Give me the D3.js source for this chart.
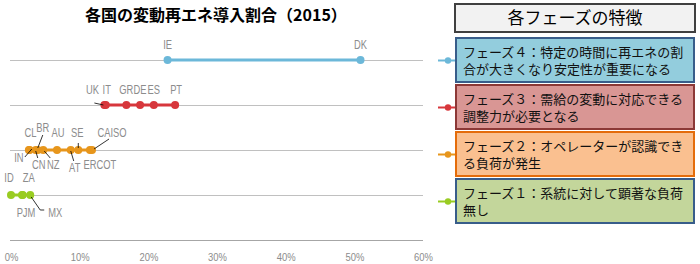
<!DOCTYPE html>
<html><head><meta charset="utf-8">
<script src="https://cdn.jsdelivr.net/npm/d3@7"></script>
<style>body{margin:0;background:#fff}</style>
</head><body><svg id="c" width="700" height="264"></svg>
<script>
// ---- data ----
const phases = [4, 3, 2, 1];
const phaseColors = ["#6cb8d9", "#d7373c", "#e7961c", "#99cc22"];
const phase4Countries = ["IE", "DK"];
const phase4Values = [0.228, 0.509];
const phase3Countries = ["UK", "IT", "GR", "DE", "ES", "PT"];
const phase3Values = [0.136, 0.138, 0.168, 0.188, 0.208, 0.239];
const phase2Countries = ["IN", "CL", "CN", "BR", "NZ", "AU", "AT", "SE", "ERCOT", "CAISO"];
const phase2Values = [0.026, 0.027, 0.036, 0.039, 0.047, 0.067, 0.087, 0.098, 0.115, 0.118];
const phase1Countries = ["ID", "ZA", "PJM", "MX"];
const phase1Values = [0.000, 0.017, 0.016, 0.028];
const xTicks = [0, 0.1, 0.2, 0.3, 0.4, 0.5, 0.6];
const chartTitle = "各国の変動再エネ導入割合（2015）";
const panelTitle = "各フェーズの特徴";
const phaseTexts = [
  ["フェーズ４：特定の時間に再エネの割", "合が大きくなり安定性が重要になる"],
  ["フェーズ３：需給の変動に対応できる", "調整力が必要となる"],
  ["フェーズ２：オペレーターが認識でき", "る負荷が発生"],
  ["フェーズ１：系統に対して顕著な負荷", "無し"]
];
const boxFills = ["#93cddd", "#d99694", "#fac090", "#c3d69b"];
const boxStrokes = ["#385d8a", "#8c3836", "#e46c0a", "#385d8a"];

// label layout: [dx, dy(center offset from point), leader polyline relative to point]
const labelLayout = {
  IE:[0,-15], DK:[0,-15],
  UK:[-12,-15,[-10,-2,-1,0]], IT:[1,-15], GR:[0,-15], DE:[0,-15], ES:[0,-15], PT:[1,-15],
  IN:[-10,8,[-4,7,3,-1]], CL:[1,-17], CN:[3,15,[2,8,0,1]], BR:[5,-22,[5,-15,0,-2]],
  NZ:[10,15,[7,8,1,1]], AU:[1,-17], AT:[4,18,[3,11,0,1]], SE:[-1,-17,[0,-7,0,-2]],
  ERCOT:[10,15], CAISO:[20,-17,[17,-11,2,-1]],
  ID:[-2,-17], ZA:[6,-17], PJM:[4,18], MX:[25,18,[14,15,10,15,1,2]]
};

const narrow = "'Liberation Sans Narrow','Arial Narrow','Liberation Sans',sans-serif";
function condense(sel, k) {
  sel.each(function () {
    const len = this.getComputedTextLength();
    d3.select(this).attr("textLength", len * k).attr("lengthAdjust", "spacingAndGlyphs");
  });
}

const svg = d3.select("#c");
const x = d3.scaleLinear().domain([0, 0.6]).range([11, 423]);
const y = d3.scaleLinear().domain([0, 4]).range([240, 60]);

// title
svg.append("text").attr("x", 216).attr("y", 21).attr("text-anchor", "middle")
  .attr("font-family", "'Noto Sans CJK JP', sans-serif").attr("font-weight", "bold")
  .attr("font-size", 16).attr("fill", "#000").text(chartTitle);

// gridlines
svg.append("g").selectAll("line").data(phases).join("line")
  .attr("x1", x(0) - 1).attr("x2", x(0.6)).attr("y1", d => y(d) + 0.5).attr("y2", d => y(d) + 0.5)
  .attr("stroke", "#c0c0c0").attr("stroke-width", 1);
// bottom axis
const ax = svg.append("g").attr("transform", `translate(0,${y(0)})`)
  .call(d3.axisBottom(x).tickValues(xTicks).tickFormat(d3.format(".0%")).tickSize(0).tickPadding(13));
ax.select(".domain").attr("stroke", "#a6a6a6").attr("d", `M${x(0)-1},0.5H${x(0.6)}`);
ax.selectAll("text").attr("font-family", narrow).attr("font-size", 11.5).attr("fill", "#8c8c8c");
condense(ax.selectAll("text"), 0.82);

const groups = [
  {phase: 4, c: phase4Countries, v: phase4Values},
  {phase: 3, c: phase3Countries, v: phase3Values},
  {phase: 2, c: phase2Countries, v: phase2Values},
  {phase: 1, c: phase1Countries, v: phase1Values}
];

groups.forEach((g, gi) => {
  const col = phaseColors[gi];
  const yy = y(g.phase);
  const gg = svg.append("g");
  gg.append("line").attr("x1", x(d3.min(g.v))).attr("x2", x(d3.max(g.v)))
    .attr("y1", yy).attr("y2", yy).attr("stroke", col).attr("stroke-width", 3);
  const pts = g.c.map((c, i) => ({c, v: g.v[i]}));
  gg.selectAll("circle").data(pts).join("circle")
    .attr("cx", d => x(d.v)).attr("cy", yy).attr("r", 4).attr("fill", col);
  pts.forEach(d => {
    const L = labelLayout[d.c];
    const px = x(d.v);
    if (L[2]) {
      const p = L[2];
      let pathD = `M${px + p[0]},${yy + p[1]}`;
      for (let k = 2; k < p.length; k += 2) pathD += `L${px + p[k]},${yy + p[k + 1]}`;
      gg.append("path").attr("d", pathD).attr("fill", "none").attr("stroke", "#000").attr("stroke-width", 0.8);
    }
    const t = gg.append("text").attr("x", px + L[0]).attr("y", yy + L[1]).attr("dy", "0.35em")
      .attr("text-anchor", "middle")
      .attr("font-family", narrow)
      .attr("font-size", 12).attr("fill", "#8c8c8c").text(d.c);
    condense(t, 0.78);
  });
});

// right panel
const font = "'Noto Sans CJK JP', sans-serif";
svg.append("rect").attr("x", 455).attr("y", 4).attr("width", 240).attr("height", 28)
  .attr("fill", "#f2f2f2").attr("stroke", "#404040").attr("stroke-width", 2);
svg.append("text").attr("x", 575).attr("y", 24).attr("text-anchor", "middle")
  .attr("font-family", font).attr("font-size", 17).attr("fill", "#000").text(panelTitle);

const boxTops = [38, 85, 132, 179];
phaseTexts.forEach((lines, i) => {
  const top = boxTops[i];
  const mid = top + 22.5;
  svg.append("line").attr("x1", 438).attr("x2", 455).attr("y1", mid).attr("y2", mid)
    .attr("stroke", phaseColors[i]).attr("stroke-width", 2);
  svg.append("circle").attr("cx", 448).attr("cy", mid).attr("r", 3.2).attr("fill", phaseColors[i]);
  svg.append("rect").attr("x", 456).attr("y", top).attr("width", 238).attr("height", 44)
    .attr("fill", boxFills[i]).attr("stroke", boxStrokes[i]).attr("stroke-width", 2);
  lines.forEach((t, j) => {
    svg.append("text").attr("x", 463).attr("y", top + 19 + j * 16.5)
      .attr("font-family", font).attr("font-size", 13).attr("fill", "#111").text(t);
  });
});
</script></body></html>
